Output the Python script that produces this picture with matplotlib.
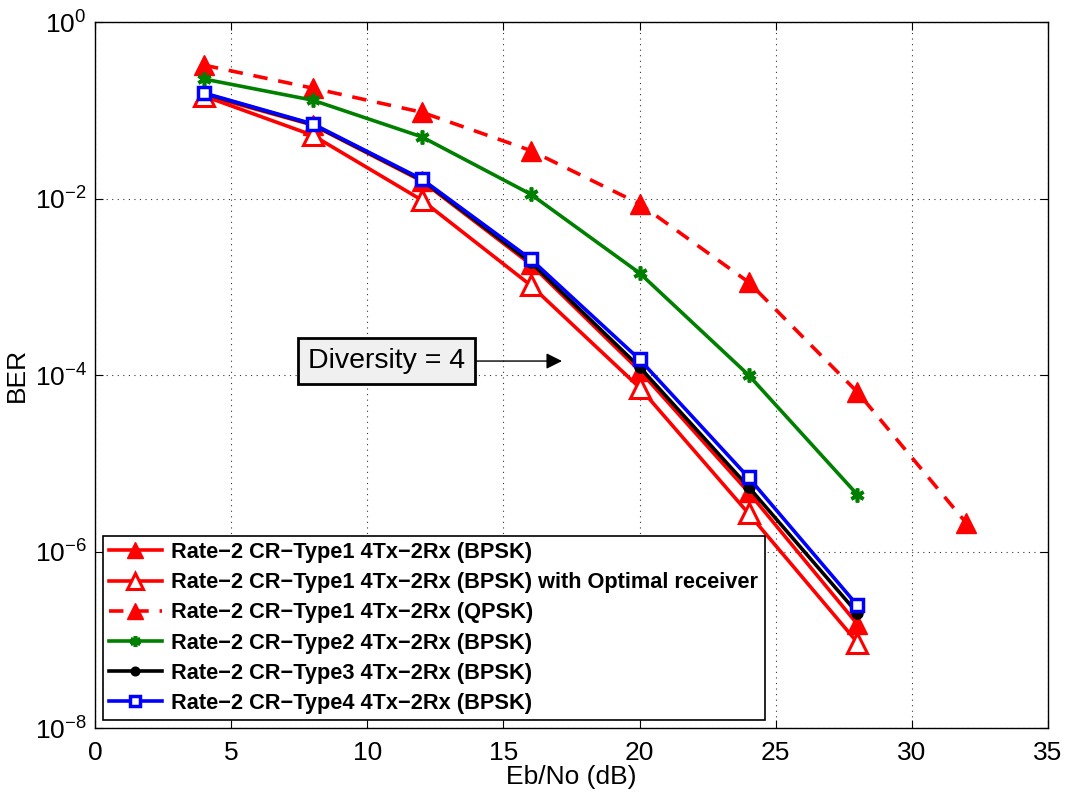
import matplotlib
matplotlib.use("Agg")
import matplotlib.pyplot as plt
import numpy as np

plt.rcParams['font.family'] = ['Liberation Sans', 'DejaVu Sans']
plt.rcParams['mathtext.fontset'] = 'custom'
plt.rcParams['mathtext.rm'] = 'Liberation Sans'
plt.rcParams['mathtext.it'] = 'Liberation Sans'
plt.rcParams['mathtext.default'] = 'rm'

snr = [4, 8, 12, 16, 20, 24, 28]
snr_qpsk = [4, 8, 12, 16, 20, 24, 28, 32]

ber_type1 = [0.15, 0.068, 0.0158, 0.0018, 1.12e-4, 4.7e-6, 1.5e-7]
ber_type1_opt = [0.145, 0.052, 0.0096, 0.00104, 7.2e-5, 2.7e-6, 9.3e-8]
ber_type1_qpsk = [0.325, 0.178, 0.095, 0.035, 0.0087, 1.13e-3, 6.4e-5, 2.1e-6]
ber_type2 = [0.226, 0.13, 0.05, 0.0112, 1.43e-3, 1.0e-4, 4.4e-6]
ber_type3 = [0.155, 0.069, 0.0162, 0.0019, 1.23e-4, 5.4e-6, 2.0e-7]
ber_type4 = [0.157, 0.07, 0.0166, 0.00206, 1.5e-4, 6.9e-6, 2.45e-7]

labels = [
    "Rate\u22122 CR\u2212Type1 4Tx\u22122Rx (BPSK)",
    "Rate\u22122 CR\u2212Type1 4Tx\u22122Rx (BPSK) with Optimal receiver",
    "Rate\u22122 CR\u2212Type1 4Tx\u22122Rx (QPSK)",
    "Rate\u22122 CR\u2212Type2 4Tx\u22122Rx (BPSK)",
    "Rate\u22122 CR\u2212Type3 4Tx\u22122Rx (BPSK)",
    "Rate\u22122 CR\u2212Type4 4Tx\u22122Rx (BPSK)",
]

fig = plt.figure(figsize=(10.69, 7.98), dpi=100)
ax = fig.add_axes([0.0889, 0.0877, 0.8915, 0.8847])

lw = 2.6
ax.semilogy(snr, ber_type1, '-', color='red', lw=lw, marker='^', ms=14,
            mfc='red', mec='red', label=labels[0])
ax.semilogy(snr, ber_type1_opt, '-', color='red', lw=lw, marker='^', ms=14,
            mfc='white', mec='red', mew=2.2, label=labels[1])
ax.semilogy(snr_qpsk, ber_type1_qpsk, '--', color='red', lw=lw, marker='^', ms=14,
            mfc='red', mec='red', dashes=(4, 3), label=labels[2])
ax.semilogy(snr, ber_type2, '-', color='#008000', lw=lw, marker=(6, 2, 0), ms=10,
            mec='#008000', mew=2.6, label=labels[3])
ax.semilogy(snr, ber_type3, '-', color='black', lw=lw, marker='o', ms=8,
            mfc='black', mec='black', label=labels[4])
ax.semilogy(snr, ber_type4, '-', color='blue', lw=lw, marker='s', ms=9,
            mfc='white', mec='blue', mew=2.5, label=labels[5])

ax.set_xlim(0, 35)
ax.set_ylim(1e-8, 1e0)
ax.set_xticks([0, 5, 10, 15, 20, 25, 30, 35])
ax.set_yticks([1e-8, 1e-6, 1e-4, 1e-2, 1e0])
ax.yaxis.set_minor_locator(matplotlib.ticker.NullLocator())
ax.grid(True, which='major', linestyle=(0, (1, 4)), color='black', lw=0.8, alpha=0.8)
ax.tick_params(direction='in', which='both', top=True, right=True, labelsize=19, length=6)
ax.tick_params(axis='x', pad=9)
ax.tick_params(axis='y', pad=6)
for s in ax.spines.values():
    s.set_linewidth(1.0)

ax.set_xlabel("Eb/No (dB)", fontsize=19, labelpad=0)
ax.set_ylabel("BER", fontsize=19, labelpad=4)

ax.annotate("Diversity = 4", xy=(17.15, 1.44e-4), xytext=(10.7, 1.44e-4),
            fontsize=20.5, ha='center', va='center',
            bbox=dict(boxstyle='square,pad=0.36', fc='#f0f0f0', ec='black', lw=2),
            arrowprops=dict(arrowstyle='-|>', color='black', lw=1, mutation_scale=24,
                            shrinkA=0, shrinkB=0))

leg = ax.legend(loc='lower left', prop={'weight': 'bold', 'size': 15.7},
                fancybox=False, edgecolor='black', framealpha=1,
                borderaxespad=0.35, handlelength=2.4, labelspacing=0.42,
                handletextpad=0.45, borderpad=0.3, markerscale=0.78)
leg.get_frame().set_linewidth(1.2)

fig.savefig("out.png", dpi=100)
